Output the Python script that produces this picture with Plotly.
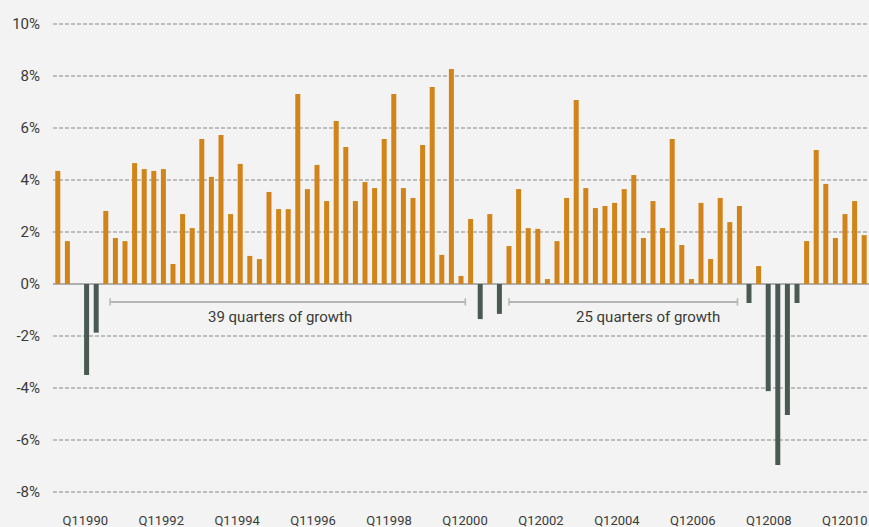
import plotly.graph_objects as go

# Quarterly GDP growth (annualised %), Q2 1989 .. Q2 2010
start_year = 1989
start_q = 2
growth = [
    4.35, 1.65, 0.0, -3.5, -1.87, 2.81, 1.77, 1.65, 4.65, 4.42,
    4.35, 4.42, 0.77, 2.69, 2.15, 5.58, 4.12, 5.73, 2.69, 4.62,
    1.08, 0.96, 3.54, 2.88, 2.88, 7.31, 3.65, 4.58, 3.19, 6.27,
    5.27, 3.19, 3.92, 3.69, 5.58, 7.31, 3.69, 3.31, 5.35, 7.58,
    1.12, 8.27, 0.31, 2.5, -1.35, 2.69, -1.15, 1.46, 3.65, 2.15,
    2.12, 0.19, 1.65, 3.31, 7.08, 3.69, 2.92, 3.0, 3.12, 3.65,
    4.19, 1.77, 3.19, 2.15, 5.58, 1.5, 0.19, 3.12, 0.96, 3.31,
    2.38, 3.0, -0.73, 0.69, -4.12, -6.96, -5.04, -0.73, 1.65, 5.15,
    3.85, 1.77, 2.69, 3.19, 1.88,
]

quarters = []
y, q = start_year, start_q
for _ in growth:
    quarters.append(f"Q{q} {y}")
    q += 1
    if q > 4:
        q, y = 1, y + 1
idx = list(range(len(growth)))

tick_labels = ["Q11990", "Q11992", "Q11994", "Q11996", "Q11998",
               "Q12000", "Q12002", "Q12004", "Q12006", "Q12008", "Q12010"]
# label placement along the quarter index axis (labels sit on a slightly compressed scale)
tick_first, tick_step = 2.86, 7.911
tick_pos = [tick_first + k * tick_step for k in range(len(tick_labels))]

y_ticks = [-8, -6, -4, -2, 0, 2, 4, 6, 8, 10]
y_labels = ["-8%", "-6%", "-4%", "-2%", "0%", "2%", "4%", "6%", "8%", "10%"]

spans = [
    {"label": "39 quarters of growth", "from": 5.45, "to": 42.45, "text_x": 23.1},
    {"label": "25 quarters of growth", "from": 47.0, "to": 70.8, "text_x": 61.5},
]

ORANGE = "#D18419"
DARK = "#4A5A53"
BG = "#F2F3F2"
TEXT = "#3A3A3A"
BRACKET = "#B4B6B6"

colors = [ORANGE if v >= 0 else DARK for v in growth]

fig = go.Figure()
fig.add_trace(go.Bar(x=idx, y=growth, hovertext=quarters,
                     marker=dict(color=colors, line=dict(width=0)),
                     hovertemplate="%{hovertext}: %{y}%<extra></extra>"))

bracket_y = -0.69
cap = 0.14
shapes = []
annotations = []
for s in spans:
    shapes.append(dict(type="line", xref="x", yref="y", x0=s["from"], x1=s["to"],
                       y0=bracket_y, y1=bracket_y, line=dict(color=BRACKET, width=2)))
    for xe in (s["from"], s["to"]):
        shapes.append(dict(type="line", xref="x", yref="y", x0=xe, x1=xe,
                           y0=bracket_y - cap, y1=bracket_y + cap,
                           line=dict(color=BRACKET, width=1.5)))
    annotations.append(dict(x=s["text_x"], y=-1.27, xref="x", yref="y", text=s["label"],
                            showarrow=False, font=dict(family="Roboto", size=15, color=TEXT)))

fig.update_layout(
    width=869, height=527,
    margin=dict(l=53, r=0, t=0, b=22),
    paper_bgcolor=BG, plot_bgcolor=BG,
    bargap=0.48,
    showlegend=False,
    shapes=shapes,
    annotations=annotations,
    font=dict(family="Roboto", color=TEXT),
)
fig.update_xaxes(
    range=[-0.5, len(growth) - 0.5], automargin=False,
    tickmode="array", tickvals=tick_pos, ticktext=tick_labels,
    tickfont=dict(size=13, color=TEXT), ticks="", showgrid=False, zeroline=False,
    ticklabelstandoff=6,
)
fig.update_yaxes(
    range=[-8.5, 10 + 24 / 26], tickvals=y_ticks, ticktext=y_labels, automargin=False,
    tickfont=dict(size=15, color=TEXT), ticks="",
    showgrid=True, gridcolor="#BDBDBD", griddash="4px,2px", gridwidth=1.5,
    zeroline=True, zerolinecolor="#AEB0B0", zerolinewidth=2,
    ticklabelstandoff=12,
)

fig.write_html("out.html", config={"displayModeBar": False},
               post_script="document.body.style.margin='0';document.body.style.background='" + BG + "';")
